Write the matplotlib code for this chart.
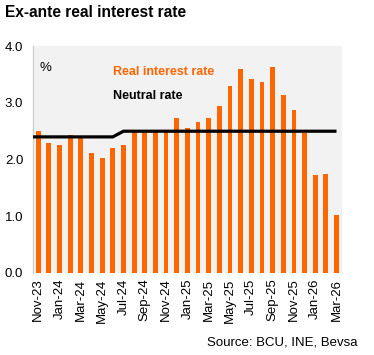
import numpy as np
import matplotlib.pyplot as plt

plt.rcParams['font.family'] = ['Liberation Sans', 'DejaVu Sans']

# Meses (Nov-23 a Mar-26)
meses = ['Nov-23', 'Dec-23', 'Jan-24', 'Feb-24', 'Mar-24', 'Apr-24', 'May-24', 'Jun-24',
         'Jul-24', 'Aug-24', 'Sep-24', 'Oct-24', 'Nov-24', 'Dec-24', 'Jan-25', 'Feb-25',
         'Mar-25', 'Apr-25', 'May-25', 'Jun-25', 'Jul-25', 'Aug-25', 'Sep-25', 'Oct-25',
         'Nov-25', 'Dec-25', 'Jan-26', 'Feb-26', 'Mar-26']

# Tasa real ex-ante (%)
tasa_real = [2.51, 2.30, 2.25, 2.44, 2.40, 2.11, 2.03, 2.20,
             2.26, 2.50, 2.50, 2.50, 2.50, 2.74, 2.55, 2.67,
             2.73, 2.95, 3.30, 3.60, 3.42, 3.36, 3.64, 3.13,
             2.88, 2.47, 1.72, 1.74, 1.02]

# Tasa neutral (%)
tasa_neutral = [2.4, 2.4, 2.4, 2.4, 2.4, 2.4, 2.4, 2.4,
                2.5, 2.5, 2.5, 2.5, 2.5, 2.5, 2.5, 2.5,
                2.5, 2.5, 2.5, 2.5, 2.5, 2.5, 2.5, 2.5,
                2.5, 2.5, 2.5, 2.5, 2.5]

x = np.arange(len(meses))

fig = plt.figure(figsize=(3.74, 3.55), dpi=100)
ax = fig.add_axes([0.088, 0.231, 0.826, 0.639])
ax.set_facecolor('#f2f2f2')

ax.bar(x, tasa_real, width=0.45, color='#ff6600', zorder=2)

# linea neutral, extendida hasta el borde izquierdo
xn = np.concatenate([[-0.5], x])
yn = np.concatenate([[tasa_neutral[0]], tasa_neutral])
ax.plot(xn, yn, color='black', linewidth=2.3, zorder=3, solid_capstyle='butt')

ax.set_xlim(-0.5, len(meses) - 0.5)
ax.set_ylim(0, 4.0)
ax.set_yticks(np.arange(0, 4.01, 1.0))
ax.set_yticklabels([f'{v:.1f}' for v in np.arange(0, 4.01, 1.0)], fontsize=9.5)
ax.set_xticks(x[::2])
ax.set_xticklabels(meses[::2], rotation=90, fontsize=9.5)
ax.tick_params(length=0, pad=7)
ax.tick_params(axis='x', pad=4)

for s in ['top', 'right', 'bottom']:
    ax.spines[s].set_visible(False)
ax.spines['left'].set_color('#d0d0d0')
ax.spines['left'].set_linewidth(1.0)

ax.text(0.02, 0.93, '%', transform=ax.transAxes, fontsize=9.5, va='top')
ax.text(0.26, 0.885, 'Real interest rate', transform=ax.transAxes, fontsize=9,
        color='#ff6600', fontweight='bold', va='center')
ax.text(0.26, 0.78, 'Neutral rate', transform=ax.transAxes, fontsize=9,
        color='black', fontweight='bold', va='center')

fig.text(0.013, 0.965, 'Ex-ante real interest rate', fontsize=11.2, fontweight='bold', va='center')
fig.text(0.955, 0.035, 'Source: BCU, INE, Bevsa', fontsize=9.5, ha='right', va='center')

plt.savefig('out.png', dpi=100)
